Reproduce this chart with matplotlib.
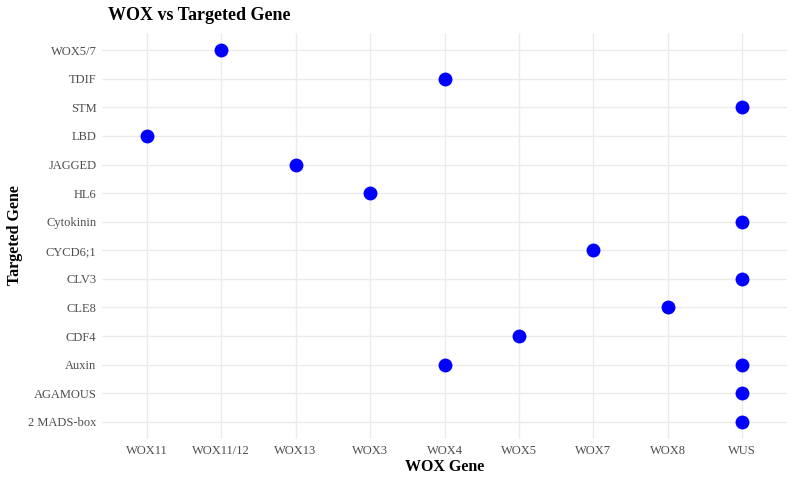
import numpy as np
from matplotlib import pyplot as plt

plt.rcParams['font.family'] = ['Liberation Serif', 'DejaVu Serif']

# 軸のカテゴリ
wox_genes = ["WOX11", "WOX11/12", "WOX13", "WOX3", "WOX4", "WOX5", "WOX7", "WOX8", "WUS"]
targets = ["2 MADS-box", "AGAMOUS", "Auxin", "CDF4", "CLE8", "CLV3", "CYCD6;1",
           "Cytokinin", "HL6", "JAGGED", "LBD", "STM", "TDIF", "WOX5/7"]

# 点 (WOX, 標的)
pt_wox = ["WOX11/12", "WOX4", "WUS", "WOX11", "WOX13", "WOX3", "WUS", "WOX7",
          "WUS", "WOX8", "WOX5", "WOX4", "WUS", "WUS", "WUS"]
pt_target = ["WOX5/7", "TDIF", "STM", "LBD", "JAGGED", "HL6", "Cytokinin", "CYCD6;1",
             "CLV3", "CLE8", "CDF4", "Auxin", "Auxin", "AGAMOUS", "2 MADS-box"]

xs = [wox_genes.index(w) for w in pt_wox]
ys = [targets.index(t) for t in pt_target]

fig = plt.figure(figsize=(7.95, 4.78), dpi=100)
ax = fig.add_axes([102 / 795, 1 - 439 / 478, 685 / 795, 406 / 478])

ax.scatter(xs, ys, s=100, color="#0000FF", zorder=3, linewidths=0)

ax.set_xticks(range(len(wox_genes)))
ax.set_xticklabels(wox_genes)
ax.set_yticks(range(len(targets)))
ax.set_yticklabels(targets)
ax.set_xlim(-0.6, len(wox_genes) - 1 + 0.6)
ax.set_ylim(-0.6, len(targets) - 1 + 0.6)

ax.grid(True, color="#EBEBEB", linewidth=1.0)
ax.set_axisbelow(True)
for s in ax.spines.values():
    s.set_visible(False)
ax.tick_params(length=0, labelsize=9, colors="#4D4D4D")
ax.tick_params(axis="x", pad=4)
ax.tick_params(axis="y", pad=4)

ax.set_xlabel("WOX Gene", fontsize=11.5, fontweight="bold", labelpad=1.5)
fig.text(15 / 795, 1 - 235 / 478, "Targeted Gene", fontsize=11.5, fontweight="bold",
         rotation=90, ha="center", va="center")
fig.text(108 / 795, 1 - 15 / 478, "WOX vs Targeted Gene", fontsize=13,
         fontweight="bold", ha="left", va="center")

plt.savefig("out.png", dpi=100)
